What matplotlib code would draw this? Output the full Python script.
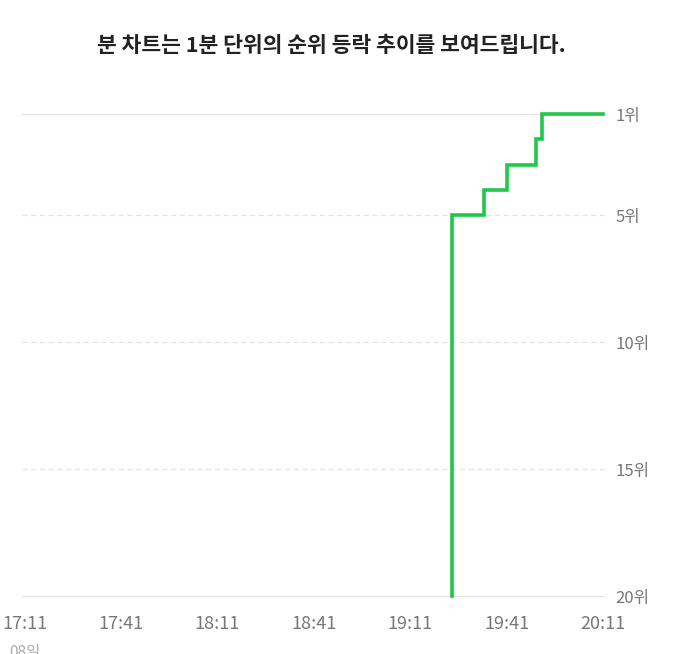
import matplotlib
matplotlib.use("Agg")
import matplotlib.pyplot as plt

plt.rcParams['font.family'] = ['Noto Sans CJK KR', 'DejaVu Sans']

# minutes after 17:11
times = [133, 133, 143, 150, 159, 161, 180]
ranks = [20, 5, 4, 3, 2, 1, 1]

tick_min = [0, 30, 60, 90, 120, 150, 180]
tick_lbl = ["17:11", "17:41", "18:11", "18:41", "19:11", "19:41", "20:11"]
rank_ticks = [1, 5, 10, 15, 20]
rank_lbl = ["1위", "5위", "10위", "15위", "20위"]

title = "분 차트는 1분 단위의 순위 등락 추이를 보여드립니다."

W, H = 673, 654
fig = plt.figure(figsize=(W / 100, H / 100), dpi=100)
ax = fig.add_axes([22 / W, 1 - 596 / H, (604 - 22) / W, (596 - 114) / H])

ax.set_xlim(-0.78, 180.3)
ax.set_ylim(20, 1)

for r in rank_ticks:
    ls = '-' if r in (1, 20) else (0, (4, 3))
    ax.axhline(r, color='#e3e3e3', lw=0.9, ls=ls, clip_on=False, zorder=1)

ax.step(times, ranks, where='post', color='#1ec84a', lw=2.6,
        clip_on=False, zorder=3, solid_joinstyle='miter')

for s in ax.spines.values():
    s.set_visible(False)

ax.yaxis.tick_right()
ax.set_yticks(rank_ticks)
ax.set_yticklabels(rank_lbl)
ax.set_xticks(tick_min)
ax.set_xticklabels(tick_lbl)
ax.tick_params(axis='y', length=0, pad=8, labelsize=12, labelcolor='#777777')
ax.tick_params(axis='x', length=0, pad=14, labelsize=13, labelcolor='#777777')

ax.text(0, -0.1, "08일", transform=ax.get_xaxis_transform(), ha='center',
        va='top', fontsize=11, color='#aaaaaa', clip_on=False)

fig.text(331 / W, 1 - 46 / H, title, ha='center', va='center',
         fontsize=15.5, fontweight='bold', color='#222222')

fig.savefig("out.png", dpi=100, facecolor='white')
